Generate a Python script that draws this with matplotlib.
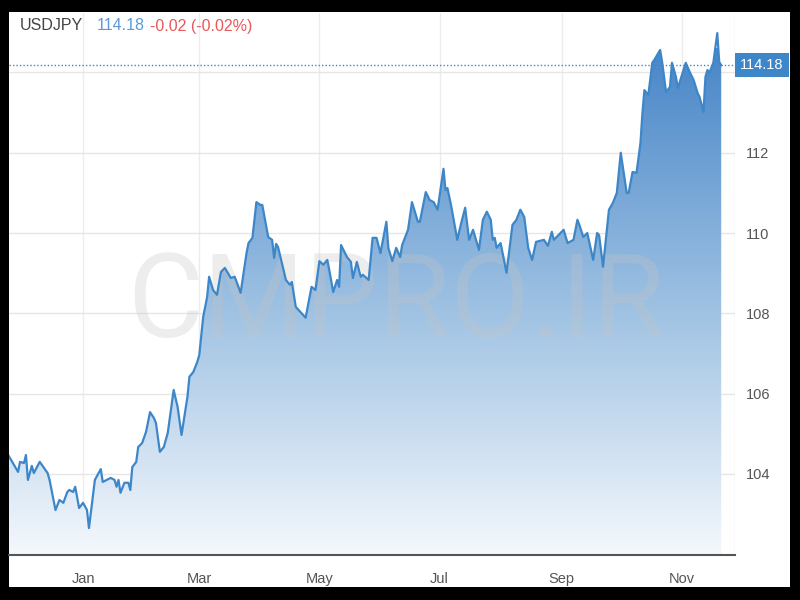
import numpy as np
import pandas as pd
import matplotlib
matplotlib.use("Agg")
import matplotlib.pyplot as plt
import matplotlib.dates as mdates
import matplotlib.transforms as mtransforms
from matplotlib.colors import LinearSegmentedColormap

# day offsets from 1 Jan, and USDJPY closes
days = [-38, -33, -32, -30, -29, -28, -26, -25, -22, -18, -17, -14, -12, -10, -8, -7,
        -5, -4, -2, 0, 2, 3, 6, 9, 10, 14, 16, 17, 18, 19, 21, 23, 24, 25, 27, 28,
        30, 32, 34, 36, 37, 39, 41, 43, 46, 48, 50, 53, 54, 56, 58, 59, 61, 63, 64,
        66, 68, 70, 72, 75, 77, 80, 83, 84, 86, 88, 90, 91, 94, 96, 97, 98, 99, 103,
        105, 106, 108, 113, 116, 118, 120, 122, 124, 125, 127, 129, 130, 131, 134,
        136, 137, 139, 141, 142, 145, 147, 149, 151, 154, 155, 157, 159, 161, 162,
        165, 167, 170, 171, 174, 176, 178, 180, 183, 184, 185, 187, 190, 192, 194,
        196, 198, 201, 203, 205, 207, 208, 209, 210, 212, 215, 218, 220, 222, 224,
        226, 228, 230, 234, 236, 238, 239, 244, 246, 249, 251, 252, 254, 256, 259,
        261, 262, 264, 267, 269, 271, 273, 276, 277, 279, 281, 283, 284, 285, 287,
        289, 290, 293, 294, 296, 298, 299, 301, 302, 306, 308, 310, 312, 313, 315,
        316, 317, 318, 320, 322, 323, 324]
prices = [104.47, 104.05, 104.30, 104.27, 104.47, 103.85, 104.20, 104.02, 104.30,
          104.02, 103.85, 103.10, 103.35, 103.28, 103.55, 103.60, 103.55, 103.68,
          103.15, 103.28, 103.10, 102.65, 103.85, 104.12, 103.80, 103.90, 103.85,
          103.68, 103.85, 103.53, 103.78, 103.78, 103.60, 104.17, 104.30, 104.67,
          104.77, 105.05, 105.54, 105.39, 105.27, 104.55, 104.67, 105.02, 106.09,
          105.67, 104.97, 105.92, 106.42, 106.54, 106.79, 106.96, 107.91, 108.41,
          108.91, 108.58, 108.46, 109.03, 109.13, 108.88, 108.91, 108.51, 109.50,
          109.75, 109.88, 110.77, 110.70, 110.70, 109.90, 109.83, 109.38, 109.73,
          109.65, 108.83, 108.71, 108.78, 108.16, 107.89, 108.66, 108.58, 109.30,
          109.21, 109.33, 109.08, 108.53, 108.83, 108.66, 109.70, 109.40, 109.28,
          108.88, 109.28, 108.91, 108.96, 108.83, 109.88, 109.88, 109.50, 110.28,
          109.63, 109.30, 109.63, 109.40, 109.70, 110.08, 110.77, 110.28, 110.28,
          111.02, 110.82, 110.77, 110.58, 111.60, 111.07, 111.12, 110.65, 109.83,
          110.25, 110.63, 109.83, 110.08, 109.58, 110.33, 110.53, 110.33, 109.83,
          109.88, 109.63, 109.75, 109.01, 110.20, 110.33, 110.58, 110.40, 109.63,
          109.33, 109.78, 109.83, 109.68, 110.03, 109.83, 110.08, 109.75, 109.83,
          110.33, 110.20, 109.90, 110.00, 109.33, 110.00, 109.95, 109.16, 110.58,
          110.75, 111.00, 112.00, 111.00, 111.00, 111.52, 111.50, 112.24, 112.99,
          113.56, 113.44, 114.24, 114.31, 114.56, 114.26, 113.51, 113.64, 114.24,
          113.89, 113.61, 114.24, 114.01, 113.81, 113.49, 113.39, 113.02, 113.89,
          114.06, 113.99, 114.24, 114.98, 114.26, 114.18]

symbol = "USDJPY"
last_price = "114.18"
change_text = "-0.02 (-0.02%)"
y_ticks = [104, 106, 108, 110, 112]
x_ticks = ["2017-01-01", "2017-03-01", "2017-05-01", "2017-07-01", "2017-09-01", "2017-11-01"]
x_labels = ["Jan", "Mar", "May", "Jul", "Sep", "Nov"]

plt.rcParams["font.family"] = ["Liberation Sans", "DejaVu Sans"]

dates = pd.Timestamp("2017-01-01") + pd.to_timedelta(days, unit="D")
xnum = mdates.date2num(dates)

fig = plt.figure(figsize=(8, 6), dpi=100, facecolor="black")

# white card inside the black frame
card = fig.add_axes([9 / 800, 13 / 600, 781 / 800, 575 / 600])
card.set_facecolor("white")
card.set_xticks([])
card.set_yticks([])
for s in card.spines.values():
    s.set_visible(False)

ax = fig.add_axes([9 / 800, 45 / 600, 726 / 800, 542 / 600])
ax.set_facecolor("none")
x0 = mdates.date2num(pd.Timestamp("2017-01-01") - pd.Timedelta(days=37.6))
x1 = mdates.date2num(pd.Timestamp("2017-01-01") + pd.Timedelta(days=331))
ymin, ymax = 101.98, 115.48
ax.set_xlim(x0, x1)
ax.set_ylim(ymin, ymax)

# grid
for t in x_ticks:
    ax.axvline(mdates.date2num(pd.Timestamp(t)), color="#ececec", lw=1, zorder=0)
for v in y_ticks:
    ax.axhline(v, color="#e6e6e6", lw=1, zorder=0)
ax.axhline(114, color="#e6e6e6", lw=1, zorder=0)
ax.axvline(x1, color="#e4e4e4", lw=1, zorder=0)

# gradient area
cmap = LinearSegmentedColormap.from_list("fade", ["#f4f8fc", "#9cc0e2", "#4886c8"])
grad = np.linspace(0, 1, 256).reshape(-1, 1)
poly = ax.fill_between(xnum, prices, ymin, color="none", lw=0)
img = ax.imshow(grad, cmap=cmap, aspect="auto", origin="lower",
                extent=[x0, x1, ymin, 114.6], zorder=1)
img.set_clip_path(poly.get_paths()[0], transform=ax.transData)

# watermark
ax.text(0.533, 0.402, "CMPRO.IR", transform=ax.transAxes, ha="center", va="baseline",
        fontsize=84, family=["Roboto", "DejaVu Sans"],
        color="#c4c4c4", alpha=0.3, zorder=2)

ax.plot(xnum, prices, color="#3d87c9", lw=1.6, zorder=3, solid_joinstyle="round")
ax.axhline(float(last_price), color="#3d87c9", lw=1, ls=(0, (1, 1.5)), zorder=3)

ax.set_xticks([mdates.date2num(pd.Timestamp(t)) for t in x_ticks])
ax.set_xticklabels(x_labels, fontsize=10.5, color="#555555")
ax.tick_params(axis="x", length=0, pad=12)
ax.yaxis.tick_right()
ax.set_yticks(y_ticks)
ax.set_yticklabels([str(v) for v in y_ticks], fontsize=10.5, color="#555555")
ax.tick_params(axis="y", length=0, pad=8)
for name in ["top", "left", "right"]:
    ax.spines[name].set_visible(False)
ax.spines["bottom"].set_color("#555555")
ax.spines["bottom"].set_linewidth(1.5)

# price box on right axis
box_tr = mtransforms.offset_copy(ax.get_yaxis_transform(), fig=fig, x=5, y=0, units="dots")
ax.text(1.0, float(last_price), last_price, transform=box_tr,
        ha="left", va="center", fontsize=10.5, color="white", zorder=5,
        bbox=dict(boxstyle="square,pad=0.36", fc="#3d87c9", ec="none"))

# header
fig.text(20 / 800, 1 - 26 / 600, symbol, fontsize=11.5, color="#444444", va="center")
fig.text(97 / 800, 1 - 26 / 600, last_price, fontsize=11.5, color="#5b9bd5", va="center")
fig.text(150 / 800, 1 - 26 / 600, change_text, fontsize=11.5, color="#e8585a", va="center")

fig.savefig("out.png", dpi=100, facecolor="black")
